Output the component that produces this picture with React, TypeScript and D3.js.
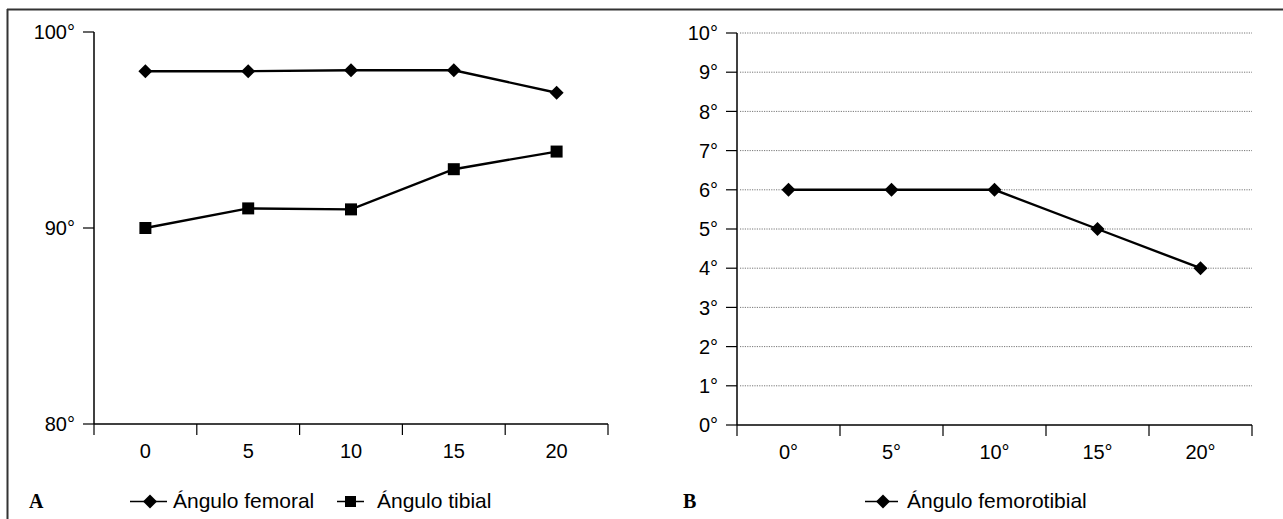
import React from "react";
import * as d3 from "d3";

// data
const catsA = ["0", "5", "10", "15", "20"];
const femoral = [98.0, 98.0, 98.05, 98.05, 96.9];
const tibial = [90.0, 91.0, 90.95, 93.0, 93.9];
const ticksA = [80, 90, 100];

const catsB = ["0°", "5°", "10°", "15°", "20°"];
const femorotibial = [6, 6, 6, 5, 4];
const ticksB = [0, 1, 2, 3, 4, 5, 6, 7, 8, 9, 10];

const FONT = "'Liberation Sans', Arial, Helvetica, sans-serif";
const SERIF = "'Liberation Serif', 'Times New Roman', serif";

function diamond(cx: number, cy: number, r: number) {
  return `M${cx},${cy - r}L${cx + r},${cy}L${cx},${cy + r}L${cx - r},${cy}Z`;
}

function XAxis({ x, y0 }: { x: d3.ScaleBand<string>; y0: number }) {
  const [r0, r1] = x.range();
  const bounds = x.domain().map((d) => x(d) as number).concat([r1]);
  return (
    <g>
      <line x1={r0} x2={r1} y1={y0} y2={y0} stroke="#000" strokeWidth={1.5} />
      {bounds.map((b, i) => (
        <line key={i} x1={b} x2={b} y1={y0} y2={y0 + 11} stroke="#000" strokeWidth={1.2} />
      ))}
      {x.domain().map((d) => (
        <text key={d} x={(x(d) as number) + x.bandwidth() / 2} y={y0 + 34} textAnchor="middle"
          fontFamily={FONT} fontSize={20}>{d}</text>
      ))}
    </g>
  );
}

function YAxis({ y, x0, ticks, grid }: { y: d3.ScaleLinear<number, number>; x0: number; ticks: number[]; grid?: number }) {
  const [b, t] = y.range();
  return (
    <g>
      {grid !== undefined && ticks.slice(1).map((v) => (
        <line key={"g" + v} x1={x0 + 3} x2={grid} y1={y(v)} y2={y(v)} stroke="#777"
          strokeWidth={1} strokeDasharray="1.2,1.2" />
      ))}
      <line x1={x0} x2={x0} y1={t} y2={b} stroke="#000" strokeWidth={1.5} />
      {ticks.map((v) => (
        <g key={v}>
          <line x1={x0 - 11} x2={x0} y1={y(v)} y2={y(v)} stroke="#000" strokeWidth={1.2} />
          <text x={x0 - 19} y={y(v)} dy="0.36em" textAnchor="end" fontFamily={FONT} fontSize={20}>{v}°</text>
        </g>
      ))}
    </g>
  );
}

export default function App() {
  // panel A
  const xA = d3.scaleBand().domain(catsA).range([94, 608]);
  const yA = d3.scaleLinear().domain([80, 100]).range([424, 32]);
  const cxA = (d: string) => (xA(d) as number) + xA.bandwidth() / 2;
  const lineA = d3.line<number>().x((_, i) => cxA(catsA[i])).y((v) => yA(v));

  // panel B
  const xB = d3.scaleBand().domain(catsB).range([737, 1252]);
  const yB = d3.scaleLinear().domain([0, 10]).range([425, 33]);
  const cxB = (d: string) => (xB(d) as number) + xB.bandwidth() / 2;
  const lineB = d3.line<number>().x((_, i) => cxB(catsB[i])).y((v) => yB(v));

  return (
    <svg width={1283} height={519} style={{ position: "absolute", left: 0, top: 0, background: "#fff" }}>
      {/* frame */}
      <line x1={7} x2={1283} y1={9.5} y2={9.5} stroke="#333" strokeWidth={2} />
      <line x1={7.5} x2={7.5} y1={9} y2={519} stroke="#333" strokeWidth={2} />

      {/* panel A */}
      <YAxis y={yA} x0={94} ticks={ticksA} />
      <XAxis x={xA} y0={424} />
      <path d={lineA(femoral) as string} fill="none" stroke="#000" strokeWidth={2.4} />
      <path d={lineA(tibial) as string} fill="none" stroke="#000" strokeWidth={2.4} />
      {femoral.map((v, i) => (
        <path key={"f" + i} d={diamond(cxA(catsA[i]), yA(v), 7)} fill="#000" />
      ))}
      {tibial.map((v, i) => (
        <rect key={"t" + i} x={cxA(catsA[i]) - 6} y={yA(v) - 6} width={12} height={12} fill="#000" />
      ))}
      <text x={29} y={508} fontFamily={SERIF} fontWeight="bold" fontSize={20}>A</text>
      <line x1={130} x2={167} y1={501.5} y2={501.5} stroke="#000" strokeWidth={1.5} />
      <path d={diamond(150, 501.5, 7)} fill="#000" />
      <text x={173} y={508} fontFamily={FONT} fontSize={21}>Ángulo femoral</text>
      <line x1={337} x2={364} y1={501.5} y2={501.5} stroke="#000" strokeWidth={1.5} />
      <rect x={345} y={496} width={11} height={11} fill="#000" />
      <text x={377} y={508} fontFamily={FONT} fontSize={21}>Ángulo tibial</text>

      {/* panel B */}
      <YAxis y={yB} x0={737} ticks={ticksB} grid={1252} />
      <XAxis x={xB} y0={425} />
      <path d={lineB(femorotibial) as string} fill="none" stroke="#000" strokeWidth={2.4} />
      {femorotibial.map((v, i) => (
        <path key={"b" + i} d={diamond(cxB(catsB[i]), yB(v), 7)} fill="#000" />
      ))}
      <text x={683} y={508} fontFamily={SERIF} fontWeight="bold" fontSize={20}>B</text>
      <line x1={865} x2={898} y1={501.5} y2={501.5} stroke="#000" strokeWidth={1.5} />
      <path d={diamond(883, 501.5, 7)} fill="#000" />
      <text x={907} y={508} fontFamily={FONT} fontSize={21}>Ángulo femorotibial</text>
    </svg>
  );
}
